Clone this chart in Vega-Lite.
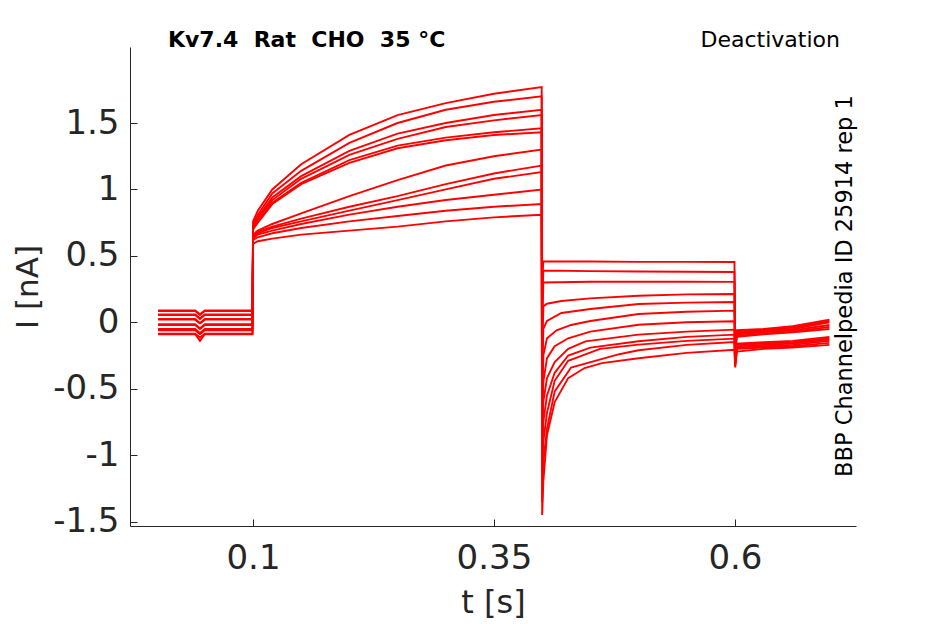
{
  "$schema": "https://vega.github.io/schema/vega-lite/v6.json",
  "width": 726,
  "height": 479,
  "autosize": "none",
  "padding": {"left": 130, "top": 47, "right": 89, "bottom": 98},
  "background": "white",
  "config": {"view": {"stroke": null}, "font": "DejaVu Sans"},
  "layer": [
    {
      "data": {
        "values": [
          {"s":1,"t":0.0015,"i":0.09},{"s":1,"t":0.04,"i":0.09},{"s":1,"t":0.045,"i":0.06},{"s":1,"t":0.05,"i":0.09},{"s":1,"t":0.0995,"i":0.09},
          {"s":1,"t":0.1001,"i":0.76},{"s":1,"t":0.105,"i":0.84},{"s":1,"t":0.12,"i":1.0},{"s":1,"t":0.15,"i":1.19},{"s":1,"t":0.2,"i":1.41},{"s":1,"t":0.25,"i":1.56},{"s":1,"t":0.3,"i":1.65},{"s":1,"t":0.35,"i":1.72},{"s":1,"t":0.3995,"i":1.77},
          {"s":1,"t":0.4,"i":0.3},
          {"s":1,"t":0.4012,"i":0.46},{"s":1,"t":0.45,"i":0.458},{"s":1,"t":0.5,"i":0.455},{"s":1,"t":0.55,"i":0.455},{"s":1,"t":0.5995,"i":0.454},
          {"s":1,"t":0.6002,"i":-0.1},{"s":1,"t":0.602,"i":-0.06},{"s":1,"t":0.63,"i":-0.05},{"s":1,"t":0.66,"i":-0.03},{"s":1,"t":0.698,"i":0.02},

          {"s":2,"t":0.0015,"i":0.085},{"s":2,"t":0.04,"i":0.085},{"s":2,"t":0.045,"i":0.055},{"s":2,"t":0.05,"i":0.085},{"s":2,"t":0.0995,"i":0.085},
          {"s":2,"t":0.1001,"i":0.74},{"s":2,"t":0.105,"i":0.81},{"s":2,"t":0.12,"i":0.97},{"s":2,"t":0.15,"i":1.14},{"s":2,"t":0.2,"i":1.35},{"s":2,"t":0.25,"i":1.5},{"s":2,"t":0.3,"i":1.6},{"s":2,"t":0.35,"i":1.66},{"s":2,"t":0.3995,"i":1.7},
          {"s":2,"t":0.4,"i":0.1},
          {"s":2,"t":0.4012,"i":0.39},{"s":2,"t":0.45,"i":0.385},{"s":2,"t":0.5,"i":0.382},{"s":2,"t":0.55,"i":0.38},{"s":2,"t":0.5995,"i":0.379},
          {"s":2,"t":0.6002,"i":-0.12},{"s":2,"t":0.602,"i":-0.07},{"s":2,"t":0.63,"i":-0.06},{"s":2,"t":0.66,"i":-0.04},{"s":2,"t":0.698,"i":0.01},

          {"s":3,"t":0.0015,"i":0.06},{"s":3,"t":0.04,"i":0.06},{"s":3,"t":0.045,"i":0.03},{"s":3,"t":0.05,"i":0.06},{"s":3,"t":0.0995,"i":0.06},
          {"s":3,"t":0.1001,"i":0.72},{"s":3,"t":0.105,"i":0.79},{"s":3,"t":0.12,"i":0.94},{"s":3,"t":0.15,"i":1.1},{"s":3,"t":0.2,"i":1.29},{"s":3,"t":0.25,"i":1.42},{"s":3,"t":0.3,"i":1.5},{"s":3,"t":0.35,"i":1.56},{"s":3,"t":0.3995,"i":1.6},
          {"s":3,"t":0.4,"i":-0.1},
          {"s":3,"t":0.4012,"i":0.3},{"s":3,"t":0.45,"i":0.305},{"s":3,"t":0.5,"i":0.305},{"s":3,"t":0.55,"i":0.305},{"s":3,"t":0.5995,"i":0.304},
          {"s":3,"t":0.6002,"i":-0.14},{"s":3,"t":0.602,"i":-0.08},{"s":3,"t":0.63,"i":-0.065},{"s":3,"t":0.66,"i":-0.05},{"s":3,"t":0.698,"i":0.0},

          {"s":4,"t":0.0015,"i":0.055},{"s":4,"t":0.04,"i":0.055},{"s":4,"t":0.045,"i":0.025},{"s":4,"t":0.05,"i":0.055},{"s":4,"t":0.0995,"i":0.055},
          {"s":4,"t":0.1001,"i":0.72},{"s":4,"t":0.105,"i":0.78},{"s":4,"t":0.12,"i":0.92},{"s":4,"t":0.15,"i":1.08},{"s":4,"t":0.2,"i":1.26},{"s":4,"t":0.25,"i":1.38},{"s":4,"t":0.3,"i":1.47},{"s":4,"t":0.35,"i":1.52},{"s":4,"t":0.3995,"i":1.56},
          {"s":4,"t":0.4,"i":-0.3},
          {"s":4,"t":0.4012,"i":0.12},{"s":4,"t":0.405,"i":0.14},{"s":4,"t":0.42,"i":0.16},{"s":4,"t":0.45,"i":0.18},{"s":4,"t":0.5,"i":0.2},{"s":4,"t":0.55,"i":0.21},{"s":4,"t":0.5995,"i":0.213},
          {"s":4,"t":0.6002,"i":-0.16},{"s":4,"t":0.602,"i":-0.09},{"s":4,"t":0.63,"i":-0.075},{"s":4,"t":0.66,"i":-0.06},{"s":4,"t":0.698,"i":-0.02},

          {"s":5,"t":0.0015,"i":0.025},{"s":5,"t":0.04,"i":0.025},{"s":5,"t":0.045,"i":-0.005},{"s":5,"t":0.05,"i":0.025},{"s":5,"t":0.0995,"i":0.025},
          {"s":5,"t":0.1001,"i":0.7},{"s":5,"t":0.105,"i":0.76},{"s":5,"t":0.12,"i":0.9},{"s":5,"t":0.15,"i":1.05},{"s":5,"t":0.2,"i":1.22},{"s":5,"t":0.25,"i":1.33},{"s":5,"t":0.3,"i":1.39},{"s":5,"t":0.35,"i":1.43},{"s":5,"t":0.3995,"i":1.46},
          {"s":5,"t":0.4,"i":-0.5},
          {"s":5,"t":0.4012,"i":-0.05},{"s":5,"t":0.405,"i":0.01},{"s":5,"t":0.42,"i":0.07},{"s":5,"t":0.45,"i":0.1},{"s":5,"t":0.5,"i":0.138},{"s":5,"t":0.55,"i":0.148},{"s":5,"t":0.5995,"i":0.153},
          {"s":5,"t":0.6002,"i":-0.2},{"s":5,"t":0.602,"i":-0.1},{"s":5,"t":0.63,"i":-0.085},{"s":5,"t":0.66,"i":-0.07},{"s":5,"t":0.698,"i":-0.035},

          {"s":6,"t":0.0015,"i":0.02},{"s":6,"t":0.04,"i":0.02},{"s":6,"t":0.045,"i":-0.01},{"s":6,"t":0.05,"i":0.02},{"s":6,"t":0.0995,"i":0.02},
          {"s":6,"t":0.1001,"i":0.7},{"s":6,"t":0.105,"i":0.75},{"s":6,"t":0.12,"i":0.89},{"s":6,"t":0.15,"i":1.04},{"s":6,"t":0.2,"i":1.2},{"s":6,"t":0.25,"i":1.31},{"s":6,"t":0.3,"i":1.37},{"s":6,"t":0.35,"i":1.41},{"s":6,"t":0.3995,"i":1.43},
          {"s":6,"t":0.4,"i":-0.7},
          {"s":6,"t":0.4012,"i":-0.25},{"s":6,"t":0.405,"i":-0.12},{"s":6,"t":0.415,"i":-0.06},{"s":6,"t":0.43,"i":-0.02},{"s":6,"t":0.45,"i":0.01},{"s":6,"t":0.5,"i":0.063},{"s":6,"t":0.55,"i":0.08},{"s":6,"t":0.5995,"i":0.088},
          {"s":6,"t":0.6002,"i":-0.25},{"s":6,"t":0.602,"i":-0.11},{"s":6,"t":0.63,"i":-0.09},{"s":6,"t":0.66,"i":-0.075},{"s":6,"t":0.698,"i":-0.05},

          {"s":7,"t":0.0015,"i":-0.015},{"s":7,"t":0.04,"i":-0.015},{"s":7,"t":0.045,"i":-0.045},{"s":7,"t":0.05,"i":-0.015},{"s":7,"t":0.0995,"i":-0.015},
          {"s":7,"t":0.1001,"i":0.66},{"s":7,"t":0.105,"i":0.69},{"s":7,"t":0.12,"i":0.74},{"s":7,"t":0.15,"i":0.82},{"s":7,"t":0.2,"i":0.95},{"s":7,"t":0.25,"i":1.07},{"s":7,"t":0.3,"i":1.18},{"s":7,"t":0.35,"i":1.25},{"s":7,"t":0.3995,"i":1.3},
          {"s":7,"t":0.4,"i":-0.85},
          {"s":7,"t":0.4012,"i":-0.45},{"s":7,"t":0.405,"i":-0.27},{"s":7,"t":0.413,"i":-0.18},{"s":7,"t":0.427,"i":-0.12},{"s":7,"t":0.45,"i":-0.07},{"s":7,"t":0.5,"i":-0.018},{"s":7,"t":0.55,"i":0.0},{"s":7,"t":0.5995,"i":0.008},
          {"s":7,"t":0.6002,"i":-0.28},{"s":7,"t":0.602,"i":-0.16},{"s":7,"t":0.63,"i":-0.15},{"s":7,"t":0.66,"i":-0.14},{"s":7,"t":0.698,"i":-0.11},

          {"s":8,"t":0.0015,"i":-0.02},{"s":8,"t":0.04,"i":-0.02},{"s":8,"t":0.045,"i":-0.05},{"s":8,"t":0.05,"i":-0.02},{"s":8,"t":0.0995,"i":-0.02},
          {"s":8,"t":0.1001,"i":0.65},{"s":8,"t":0.105,"i":0.68},{"s":8,"t":0.12,"i":0.72},{"s":8,"t":0.15,"i":0.78},{"s":8,"t":0.2,"i":0.87},{"s":8,"t":0.25,"i":0.95},{"s":8,"t":0.3,"i":1.04},{"s":8,"t":0.35,"i":1.12},{"s":8,"t":0.3995,"i":1.18},
          {"s":8,"t":0.4,"i":-1.0},
          {"s":8,"t":0.4012,"i":-0.6},{"s":8,"t":0.405,"i":-0.42},{"s":8,"t":0.413,"i":-0.3},{"s":8,"t":0.427,"i":-0.2},{"s":8,"t":0.445,"i":-0.143},{"s":8,"t":0.5,"i":-0.093},{"s":8,"t":0.55,"i":-0.07},{"s":8,"t":0.5995,"i":-0.055},
          {"s":8,"t":0.6002,"i":-0.3},{"s":8,"t":0.602,"i":-0.17},{"s":8,"t":0.63,"i":-0.16},{"s":8,"t":0.66,"i":-0.15},{"s":8,"t":0.698,"i":-0.12},

          {"s":9,"t":0.0015,"i":-0.05},{"s":9,"t":0.04,"i":-0.05},{"s":9,"t":0.045,"i":-0.08},{"s":9,"t":0.05,"i":-0.05},{"s":9,"t":0.0995,"i":-0.05},
          {"s":9,"t":0.1001,"i":0.64},{"s":9,"t":0.105,"i":0.67},{"s":9,"t":0.12,"i":0.71},{"s":9,"t":0.15,"i":0.76},{"s":9,"t":0.2,"i":0.84},{"s":9,"t":0.25,"i":0.92},{"s":9,"t":0.3,"i":1.0},{"s":9,"t":0.35,"i":1.08},{"s":9,"t":0.3995,"i":1.13},
          {"s":9,"t":0.4,"i":-1.1},
          {"s":9,"t":0.4012,"i":-0.75},{"s":9,"t":0.405,"i":-0.55},{"s":9,"t":0.413,"i":-0.38},{"s":9,"t":0.427,"i":-0.25},{"s":9,"t":0.45,"i":-0.19},{"s":9,"t":0.5,"i":-0.143},{"s":9,"t":0.55,"i":-0.11},{"s":9,"t":0.5995,"i":-0.093},
          {"s":9,"t":0.6002,"i":-0.3},{"s":9,"t":0.602,"i":-0.18},{"s":9,"t":0.63,"i":-0.17},{"s":9,"t":0.66,"i":-0.16},{"s":9,"t":0.698,"i":-0.13},

          {"s":10,"t":0.0015,"i":-0.06},{"s":10,"t":0.04,"i":-0.06},{"s":10,"t":0.045,"i":-0.09},{"s":10,"t":0.05,"i":-0.06},{"s":10,"t":0.0995,"i":-0.06},
          {"s":10,"t":0.1001,"i":0.63},{"s":10,"t":0.105,"i":0.66},{"s":10,"t":0.12,"i":0.69},{"s":10,"t":0.15,"i":0.74},{"s":10,"t":0.2,"i":0.81},{"s":10,"t":0.25,"i":0.87},{"s":10,"t":0.3,"i":0.92},{"s":10,"t":0.35,"i":0.96},{"s":10,"t":0.3995,"i":1.0},
          {"s":10,"t":0.4,"i":-1.2},
          {"s":10,"t":0.4012,"i":-0.9},{"s":10,"t":0.405,"i":-0.68},{"s":10,"t":0.413,"i":-0.44},{"s":10,"t":0.427,"i":-0.29},{"s":10,"t":0.46,"i":-0.2},{"s":10,"t":0.5,"i":-0.168},{"s":10,"t":0.55,"i":-0.14},{"s":10,"t":0.5995,"i":-0.123},
          {"s":10,"t":0.6002,"i":-0.32},{"s":10,"t":0.602,"i":-0.19},{"s":10,"t":0.63,"i":-0.18},{"s":10,"t":0.66,"i":-0.17},{"s":10,"t":0.698,"i":-0.14},

          {"s":11,"t":0.0015,"i":-0.085},{"s":11,"t":0.04,"i":-0.085},{"s":11,"t":0.045,"i":-0.115},{"s":11,"t":0.05,"i":-0.085},{"s":11,"t":0.0995,"i":-0.085},
          {"s":11,"t":0.1001,"i":0.62},{"s":11,"t":0.105,"i":0.64},{"s":11,"t":0.12,"i":0.67},{"s":11,"t":0.15,"i":0.71},{"s":11,"t":0.2,"i":0.76},{"s":11,"t":0.25,"i":0.8},{"s":11,"t":0.3,"i":0.84},{"s":11,"t":0.35,"i":0.87},{"s":11,"t":0.3995,"i":0.89},
          {"s":11,"t":0.4,"i":-1.35},
          {"s":11,"t":0.4012,"i":-1.05},{"s":11,"t":0.405,"i":-0.8},{"s":11,"t":0.413,"i":-0.52},{"s":11,"t":0.43,"i":-0.34},{"s":11,"t":0.48,"i":-0.24},{"s":11,"t":0.5,"i":-0.21},{"s":11,"t":0.55,"i":-0.17},{"s":11,"t":0.5995,"i":-0.148},
          {"s":11,"t":0.6002,"i":-0.33},{"s":11,"t":0.602,"i":-0.2},{"s":11,"t":0.63,"i":-0.19},{"s":11,"t":0.66,"i":-0.18},{"s":11,"t":0.698,"i":-0.155},

          {"s":12,"t":0.0015,"i":-0.09},{"s":12,"t":0.04,"i":-0.09},{"s":12,"t":0.045,"i":-0.14},{"s":12,"t":0.05,"i":-0.09},{"s":12,"t":0.0995,"i":-0.09},
          {"s":12,"t":0.1001,"i":0.59},{"s":12,"t":0.105,"i":0.61},{"s":12,"t":0.12,"i":0.63},{"s":12,"t":0.15,"i":0.66},{"s":12,"t":0.2,"i":0.69},{"s":12,"t":0.25,"i":0.72},{"s":12,"t":0.3,"i":0.76},{"s":12,"t":0.35,"i":0.79},{"s":12,"t":0.3995,"i":0.81},
          {"s":12,"t":0.4,"i":-1.45},
          {"s":12,"t":0.4012,"i":-1.2},{"s":12,"t":0.405,"i":-0.85},{"s":12,"t":0.413,"i":-0.6},{"s":12,"t":0.427,"i":-0.42},{"s":12,"t":0.444,"i":-0.344},{"s":12,"t":0.462,"i":-0.307},{"s":12,"t":0.5,"i":-0.27},{"s":12,"t":0.55,"i":-0.23},{"s":12,"t":0.5995,"i":-0.206},
          {"s":12,"t":0.6002,"i":-0.34},{"s":12,"t":0.602,"i":-0.22},{"s":12,"t":0.63,"i":-0.2},{"s":12,"t":0.66,"i":-0.19},{"s":12,"t":0.698,"i":-0.17}
        ]
      },
      "mark": {"type": "line", "color": "#ff0000", "strokeWidth": 1.9, "clip": true},
      "encoding": {
        "x": {
          "field": "t",
          "type": "quantitative",
          "scale": {"domain": [-0.0276, 0.7256], "nice": false, "zero": false},
          "axis": {
            "values": [0.1, 0.35, 0.6],
            "labelExpr": "'' + datum.value",
            "title": "t [s]",
            "grid": false,
            "tickSize": -7,
            "labelPadding": 22,
            "labelFontSize": 34,
            "titleFontSize": 32,
            "titleFontWeight": "normal",
            "titlePadding": 12,
            "domainColor": "#262626",
            "tickColor": "#262626",
            "labelColor": "#262626",
            "titleColor": "#262626"
          }
        },
        "y": {
          "field": "i",
          "type": "quantitative",
          "scale": {"domain": [-1.533, 2.072], "nice": false, "zero": false},
          "axis": {
            "values": [-1.5, -1, -0.5, 0, 0.5, 1, 1.5],
            "labelExpr": "'' + datum.value",
            "title": "I [nA]",
            "grid": false,
            "tickSize": -7,
            "labelPadding": 18,
            "labelFontSize": 34,
            "titleFontSize": 31,
            "titleFontWeight": "normal",
            "titlePadding": 8,
            "domainColor": "#262626",
            "tickColor": "#262626",
            "labelColor": "#262626",
            "titleColor": "#262626"
          }
        },
        "detail": {"field": "s", "type": "nominal"}
      }
    },
    {
      "data": {"values": [{"label": "Kv7.4\u00a0 Rat\u00a0 CHO\u00a0 35 °C"}]},
      "mark": {"type": "text", "align": "left", "baseline": "alphabetic", "fontSize": 22, "fontWeight": "bold", "color": "black"},
      "encoding": {
        "text": {"field": "label"},
        "x": {"datum": 0.0118, "type": "quantitative"},
        "y": {"datum": 2.072, "type": "quantitative"}
      }
    },
    {
      "data": {"values": [{"label": "Deactivation"}]},
      "mark": {"type": "text", "align": "right", "baseline": "alphabetic", "fontSize": 22, "color": "black"},
      "encoding": {
        "text": {"field": "label"},
        "x": {"datum": 0.709, "type": "quantitative"},
        "y": {"datum": 2.072, "type": "quantitative"}
      }
    },
    {
      "data": {"values": [{"label": "BBP Channelpedia ID 25914 rep 1"}]},
      "mark": {"type": "text", "angle": 270, "align": "center", "baseline": "alphabetic", "fontSize": 22.5, "color": "black"},
      "encoding": {
        "text": {"field": "label"},
        "x": {"datum": 0.7214, "type": "quantitative"},
        "y": {"datum": 0.273, "type": "quantitative"}
      }
    }
  ]
}
